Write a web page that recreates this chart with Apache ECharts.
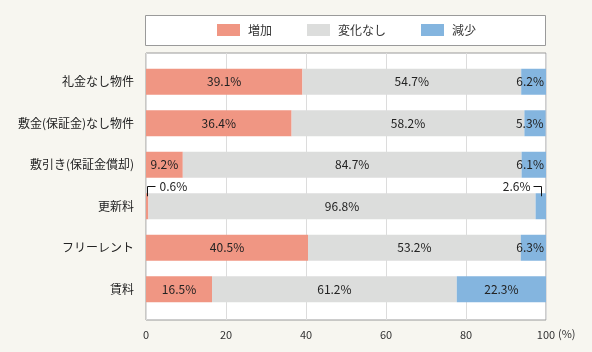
<!DOCTYPE html>
<html><head><meta charset="utf-8">
<script src="https://cdn.jsdelivr.net/npm/echarts@6/dist/echarts.min.js"></script>
<style>html,body{margin:0;padding:0;background:#f7f6f0;}#c{width:592px;height:352px;}</style>
</head><body><div id="c"></div>
<script>
var categories = ['礼金なし物件','敷金(保証金)なし物件','敷引き(保証金償却)','更新料','フリーレント','賃料'];
var increase = [39.1, 36.4, 9.2, 0.6, 40.5, 16.5];
var unchanged = [54.7, 58.2, 84.7, 96.8, 53.2, 61.2];
var decrease = [6.2, 5.3, 6.1, 2.6, 6.3, 22.3];
var seriesNames = ['増加','変化なし','減少'];
var xTicks = [0, 20, 40, 60, 80, 100];

var FONT = '"Noto Sans CJK JP", "Noto Sans", sans-serif';
var colors = ['#f09683', '#dcdddc', '#84b5df'];

function items(arr, isLast) {
  return arr.map(function (v) {
    var it = { value: v };
    if (v < 3) it.label = { show: false };
    else if (isLast && v < 10) it.label = { position: 'insideRight', distance: 2 };
    return it;
  });
}

var chart = echarts.init(document.getElementById('c'));
var lbl = { show: true, position: 'inside', color: '#222', fontSize: 12, fontFamily: FONT, formatter: function (p) { return p.value.toFixed(1) + '%'; } };
var opt = {
  backgroundColor: '#f7f6f0',
  animation: false,
  textStyle: { fontFamily: FONT },
  legend: {
    top: 19, left: 212,
    itemWidth: 23, itemHeight: 12, itemGap: 35,
    icon: 'rect',
    textStyle: { color: '#333', fontSize: 12, fontFamily: FONT, padding: [0,0,0,3] },
    data: seriesNames
  },
  grid: [
    { left: 146, right: 46, top: 53, bottom: 32, show: true, backgroundColor: '#fff', borderColor: '#9a9a9a', borderWidth: 1, z: 0 },
    { left: 146, right: 46, top: 61, bottom: 42 }
  ],
  xAxis: [
    { gridIndex: 0, type: 'value', min: 0, max: 100, interval: 20,
      axisLine: { show: false }, axisTick: { show: false },
      splitLine: { show: true, lineStyle: { color: '#dcdcdc', width: 1 } },
      axisLabel: { color: '#333', fontSize: 11, margin: 9, fontFamily: FONT,
        customValues: xTicks } },
    { gridIndex: 1, type: 'value', min: 0, max: 100, show: false }
  ],
  yAxis: [
    { gridIndex: 0, type: 'value', show: false },
    { gridIndex: 1, type: 'category', data: categories, inverse: true,
      axisLine: { show: false }, axisTick: { show: false },
      axisLabel: { color: '#222', fontSize: 12, margin: 12, fontFamily: FONT } }
  ],
  series: [
    { name: seriesNames[0], type: 'bar', stack: 's', xAxisIndex: 1, yAxisIndex: 1, barWidth: 26, itemStyle: { color: colors[0] }, label: lbl, data: items(increase, false) },
    { name: seriesNames[1], type: 'bar', stack: 's', xAxisIndex: 1, yAxisIndex: 1, barWidth: 26, itemStyle: { color: colors[1] }, label: lbl, data: items(unchanged, false) },
    { name: seriesNames[2], type: 'bar', stack: 's', xAxisIndex: 1, yAxisIndex: 1, barWidth: 26, itemStyle: { color: colors[2] }, label: lbl, data: items(decrease, true) }
  ]
};
chart.setOption(opt);

// annotations for small values
var g = [
  { type: 'rect', shape: { x: 145.5, y: 15.5, width: 400, height: 30 }, style: { fill: '#fff', stroke: '#9a9a9a', lineWidth: 1 }, z: -1 },
  { type: 'text', x: 558, y: 334, style: { text: '(%)', fill: '#333', font: '11px ' + FONT, textVerticalAlign: 'middle' } }
];
categories.forEach(function (c, i) {
  var tot = increase[i] + unchanged[i] + decrease[i];
  var segs = [[0, increase[i]], [tot - decrease[i], tot]];
  var vals = [increase[i], decrease[i]];
  [0, 1].forEach(function (k) {
    if (vals[k] >= 3) return;
    var mid = (segs[k][0] + segs[k][1]) / 2;
    var p = chart.convertToPixel({ xAxisIndex: 1, yAxisIndex: 1 }, [mid, i]);
    var x = Math.round(p[0]) + 0.5, cy = p[1];
    var ly = Math.round(cy - 20) + 0.5, by = cy - 10;
    var ex = k === 0 ? x + 8 : x - 8;
    g.push({ type: 'polyline', shape: { points: [[x, by], [x, ly], [ex, ly]] }, style: { stroke: '#111', lineWidth: 1, fill: null }, z: 10 });
    g.push({ type: 'text', x: k === 0 ? ex + 4 : ex - 3, y: ly, style: { text: vals[k].toFixed(1) + '%', fill: '#222', font: '12px ' + FONT, textAlign: k === 0 ? 'left' : 'right', textVerticalAlign: 'middle' }, z: 10 });
  });
});
chart.setOption({ graphic: g });
</script></body></html>
